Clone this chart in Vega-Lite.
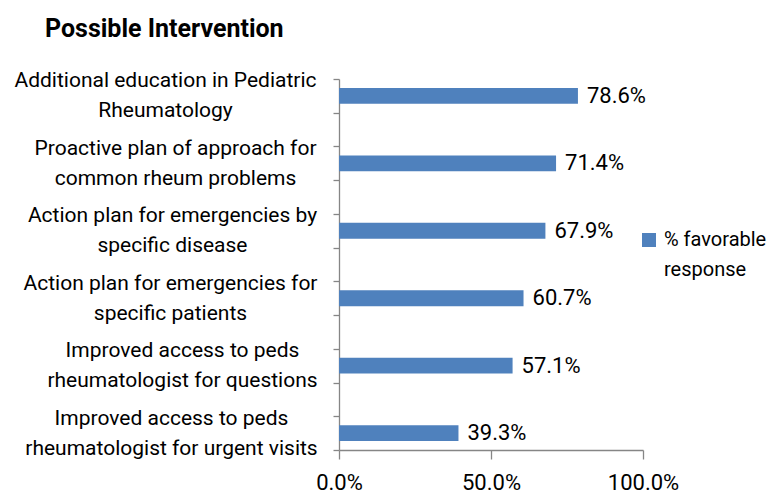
{
  "$schema": "https://vega.github.io/schema/vega-lite/v6.json",
  "width": 304,
  "height": 371,
  "autosize": {"type": "none"},
  "padding": {"left": 339, "top": 79, "right": 128, "bottom": 43},
  "background": "white",
  "title": {
    "text": "Possible Intervention",
    "font": "Roboto",
    "fontSize": 25,
    "fontWeight": "bold",
    "color": "black",
    "anchor": "start",
    "frame": "group",
    "dx": -294,
    "offset": 26
  },
  "data": {
    "values": [
      {"item": "Additional education in Pediatric|Rheumatology", "pct": 0.786, "series": "% favorable response"},
      {"item": "Proactive plan of approach for|common rheum problems", "pct": 0.714, "series": "% favorable response"},
      {"item": "Action plan for emergencies by|specific disease", "pct": 0.679, "series": "% favorable response"},
      {"item": "Action plan for emergencies for|specific patients", "pct": 0.607, "series": "% favorable response"},
      {"item": "Improved access to peds|rheumatologist for questions", "pct": 0.571, "series": "% favorable response"},
      {"item": "Improved access to peds|rheumatologist for urgent visits", "pct": 0.393, "series": "% favorable response"}
    ]
  },
  "encoding": {
    "y": {
      "field": "item",
      "type": "nominal",
      "sort": null,
      "scale": {
        "domain": [
          "Additional education in Pediatric|Rheumatology", "s1",
          "Proactive plan of approach for|common rheum problems", "s2",
          "Action plan for emergencies by|specific disease", "s3",
          "Action plan for emergencies for|specific patients", "s4",
          "Improved access to peds|rheumatologist for questions", "s5",
          "Improved access to peds|rheumatologist for urgent visits"
        ],
        "paddingInner": 0,
        "paddingOuter": 0
      },
      "axis": {
        "title": null,
        "tickBand": "extent",
        "tickSize": 6,
        "labelOverlap": false,
        "labelAlign": "center",
        "labelLineHeight": 30,
        "labelOffset": -15,
        "labelLimit": 400,
        "labelExpr": "isString(datum.value) && indexof(datum.value, '|') >= 0 ? split(datum.value, '|') : ''",
        "labelPadding": {
          "condition": [
            {"test": "datum.value == 'Additional education in Pediatric|Rheumatology'", "value": 168},
            {"test": "datum.value == 'Proactive plan of approach for|common rheum problems'", "value": 158},
            {"test": "datum.value == 'Action plan for emergencies by|specific disease'", "value": 161},
            {"test": "datum.value == 'Action plan for emergencies for|specific patients'", "value": 163},
            {"test": "datum.value == 'Improved access to peds|rheumatologist for questions'", "value": 151}
          ],
          "value": 162
        }
      }
    },
    "x": {
      "field": "pct",
      "type": "quantitative",
      "scale": {"domain": [0, 1]},
      "axis": {
        "title": null,
        "values": [0, 0.5, 1],
        "format": ".1%",
        "tickSize": 9,
        "labelPadding": 13,
        "labelFontSize": 22,
        "labelFlush": false
      }
    }
  },
  "layer": [
    {
      "mark": {"type": "bar", "height": {"band": 0.47}},
      "encoding": {
        "color": {
          "field": "series",
          "type": "nominal",
          "scale": {"range": ["#4F81BD"]},
          "legend": {
            "title": null,
            "orient": "none",
            "legendX": 300,
            "legendY": 151,
            "padding": 0,
            "symbolType": "square",
            "symbolSize": 196,
            "symbolStrokeWidth": 0,
            "labelFont": "Roboto",
            "labelFontSize": 20,
            "labelColor": "black",
            "labelOffset": 5,
            "labelLimit": 300,
            "labelExpr": "['% favorable', 'response']"
          }
        }
      }
    },
    {
      "mark": {"type": "text", "align": "left", "baseline": "middle", "dx": 9, "font": "Roboto", "fontSize": 22, "color": "black"},
      "encoding": {
        "text": {"field": "pct", "type": "quantitative", "format": ".1%"}
      }
    }
  ],
  "config": {
    "view": {"stroke": null},
    "style": {"guide-label": {"lineHeight": 30}},
    "axis": {
      "grid": false,
      "labelFont": "Roboto",
      "labelFontSize": 21,
      "labelColor": "black",
      "domainColor": "#868686",
      "tickColor": "#868686",
      "domainWidth": 1.3,
      "tickWidth": 1.3
    }
  }
}
